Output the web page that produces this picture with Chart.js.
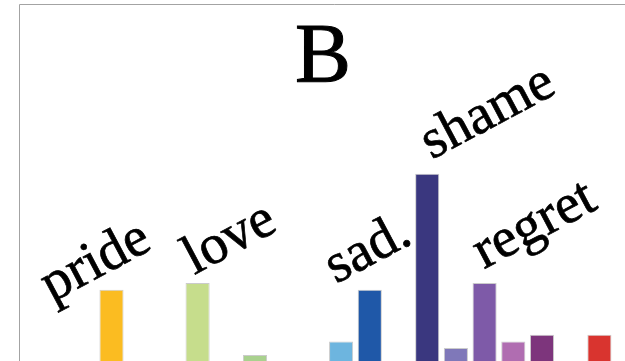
<!DOCTYPE html>
<html>
<head>
<meta charset="utf-8">
<script src="https://cdn.jsdelivr.net/npm/chart.js@4"></script>
<style>
  html, body { margin: 0; padding: 0; width: 625px; height: 361px; overflow: hidden; background: #fff; }
  #wrap { position: absolute; left: 0; top: 0; width: 650px; height: 460px; }
</style>
</head>
<body>
<div id="wrap"><canvas id="graph" width="650" height="460"></canvas></div>
<script>
// slots along the x axis, most of them have no visible bar in this crop
const slots = ['', '', 'pride', '', '', 'love', '', '', '', '', 'sad.', 'sad.', '', 'shame', 'shame', 'regret', 'regret', 'regret', '', 'other', ''];
const values = [null, null, 36.7, null, null, 38.2, null, 22.2, null, null, 25.2, 36.7, null, 62.5, 23.8, 38.2, 25.2, 26.7, null, 26.7, null];
const barColors = ['#fff', '#fff', '#FBBC21', '#fff', '#fff', '#C6DD8C', '#fff', '#A9D18E', '#fff', '#fff',
  '#6DB5DF', '#1F58A8', '#fff', '#3A377F', '#7F78B9', '#7E5AA8', '#B06DB1', '#7D357C', '#fff', '#D9342F', '#fff'];

const panelTitle = 'B';
// group words: anchor slot (fractional) and height in value units
const groupWords = ['pride', 'love', 'sad.', 'shame', 'regret'];
const wordSlot = [-0.07, 4.88, 9.82, 13.16, 14.98];
const wordLevel = [33.9, 40, 38, 65.6, 41.3];

const serif = '"Liberation Serif", "Times New Roman", serif';

const panelText = {
  id: 'panelText',
  afterDraw(chart) {
    const ctx = chart.ctx;
    const xs = chart.scales.x, ys = chart.scales.y;
    ctx.save();
    // frame
    ctx.strokeStyle = '#a3a3a3';
    ctx.lineWidth = 1;
    ctx.beginPath();
    ctx.moveTo(19.5, chart.height);
    ctx.lineTo(19.5, 4.5);
    ctx.lineTo(chart.width, 4.5);
    ctx.stroke();
    // panel letter
    ctx.fillStyle = '#000';
    ctx.strokeStyle = '#000';
    ctx.font = '84px ' + serif;
    ctx.textAlign = 'center';
    ctx.textBaseline = 'alphabetic';
    ctx.lineWidth = 1;
    ctx.fillText(panelTitle, 323, 82);
    ctx.strokeText(panelTitle, 323, 82);
    // rotated words
    ctx.font = '56px ' + serif;
    ctx.textAlign = 'left';
    ctx.lineWidth = 0.7;
    groupWords.forEach((w, i) => {
      const px = xs.getPixelForValue(0) + wordSlot[i] * (xs.getPixelForValue(1) - xs.getPixelForValue(0));
      const py = ys.getPixelForValue(wordLevel[i]);
      ctx.save();
      ctx.translate(px, py);
      ctx.rotate(-28 * Math.PI / 180);
      ctx.fillText(w, 0, 0);
      ctx.strokeText(w, 0, 0);
      ctx.restore();
    });
    ctx.restore();
  }
};

const chart = new Chart(document.getElementById('graph'), {
  type: 'bar',
  data: {
    labels: slots,
    datasets: [{
      data: values,
      backgroundColor: barColors,
      borderColor: 'rgba(190,190,190,0.8)',
      borderWidth: 1,
      barPercentage: 0.84,
      categoryPercentage: 1
    }]
  },
  options: {
    responsive: false,
    animation: false,
    devicePixelRatio: 1,
    layout: { padding: { left: 39.75, top: 5, right: 7.55, bottom: 5 } },
    plugins: { legend: { display: false }, title: { display: false }, tooltip: { enabled: false } },
    scales: {
      x: { display: false },
      y: { display: false, min: 0, max: 100 }
    }
  },
  plugins: [panelText]
});
</script>
</body>
</html>
